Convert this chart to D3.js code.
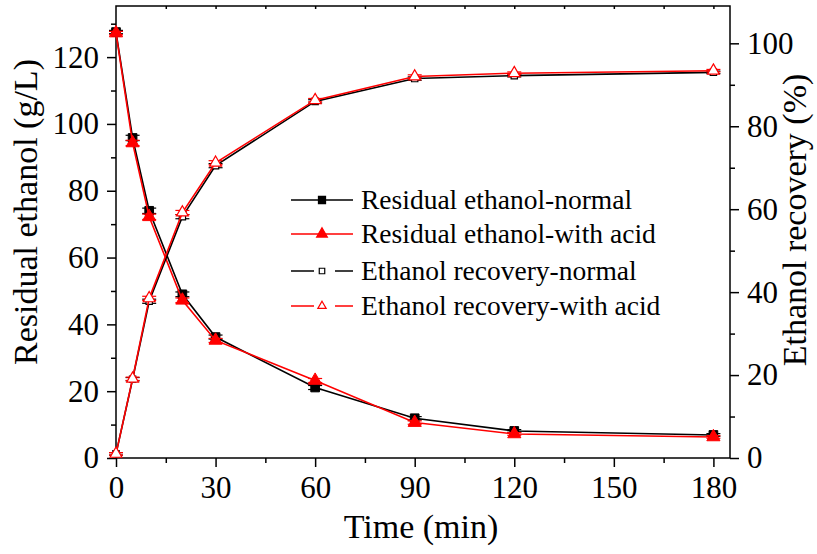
<!DOCTYPE html>
<html><head><meta charset="utf-8">
<script src="https://cdn.jsdelivr.net/npm/d3@7"></script>
<style>body{margin:0;background:#fff}text{font-family:"Liberation Serif","Times New Roman",serif}</style>
</head><body><svg id="c" width="817" height="554"></svg>
<script>
const times = [0, 5, 10, 20, 30, 60, 90, 120, 180];
const residualNormal = [127.5, 95.8, 74.0, 49.0, 36.2, 21.1, 11.9, 8.1, 6.9];
const residualAcid   = [127.2, 94.3, 72.2, 47.2, 35.2, 23.2, 10.6, 7.2, 6.3];
const recoveryNormal = [1.0, 19.0, 37.8, 58.2, 70.5, 86.0, 91.5, 92.2, 93.0];
const recoveryAcid   = [1.0, 19.1, 38.5, 59.2, 71.2, 86.3, 92.0, 92.8, 93.4];
const errResidual = [0.5, 0.8, 0.8, 0.7, 0.6, 0.6, 0.5, 0.4, 0.4];
const errRecovery = [0.3, 0.4, 0.5, 0.5, 0.5, 0.4, 0.4, 0.3, 0.3];
const xTicks = [0, 30, 60, 90, 120, 150, 180];
const yLeftTicks = [0, 20, 40, 60, 80, 100, 120];
const yRightTicks = [0, 20, 40, 60, 80, 100];
const legendLabels = ["Residual ethanol-normal", "Residual ethanol-with acid", "Ethanol recovery-normal", "Ethanol recovery-with acid"];

const L = 116, R = 730, T = 6, B = 458;
const svg = d3.select("#c");
const x = d3.scaleLinear().domain([0, 185]).range([L, R]);
const yL = d3.scaleLinear().domain([0, 135.3]).range([B, T]);
const yR = d3.scaleLinear().domain([0, 109]).range([B, T]);

const fs = 31;
// axes
const gx = svg.append("g").attr("transform", `translate(0,${B})`)
  .call(d3.axisBottom(x).tickValues(xTicks).tickSize(9).tickPadding(9).tickFormat(d3.format("d")));
const gxm = svg.append("g").attr("transform", `translate(0,${B})`)
  .call(d3.axisBottom(x).tickValues([15, 45, 75, 105, 135, 165]).tickSize(5).tickFormat(""));
const gxt = svg.append("g").attr("transform", `translate(0,${T})`)
  .call(d3.axisBottom(x).tickValues([15, 30, 45, 60, 75, 90, 105, 120, 135, 150, 165, 180]).tickSize(3).tickFormat(""));
const gyl = svg.append("g").attr("transform", `translate(${L},0)`)
  .call(d3.axisLeft(yL).tickValues(yLeftTicks).tickSize(9).tickPadding(8));
const gylm = svg.append("g").attr("transform", `translate(${L},0)`)
  .call(d3.axisLeft(yL).tickValues([10, 30, 50, 70, 90, 110, 130]).tickSize(5).tickFormat(""));
const gyr = svg.append("g").attr("transform", `translate(${R},0)`)
  .call(d3.axisRight(yR).tickValues(yRightTicks).tickSize(9).tickPadding(8));
const gyrm = svg.append("g").attr("transform", `translate(${R},0)`)
  .call(d3.axisRight(yR).tickValues([10, 30, 50, 70, 90]).tickSize(5).tickFormat(""));
[gx, gxm, gxt, gyl, gylm, gyr, gyrm].forEach(g => {
  g.select(".domain").remove();
  g.selectAll(".tick line").attr("stroke", "#000").attr("stroke-width", 1.5);
  g.selectAll("text").attr("font-size", fs).attr("fill", "#000");
});
svg.append("rect").attr("x", L).attr("y", T).attr("width", R - L).attr("height", B - T)
  .attr("fill", "none").attr("stroke", "#000").attr("stroke-width", 1.5);

// titles
svg.append("text").attr("x", 421).attr("y", 538).attr("text-anchor", "middle")
  .attr("font-size", 34).text("Time (min)");
svg.append("text").attr("transform", `translate(37,212) rotate(-90)`).attr("text-anchor", "middle")
  .attr("font-size", 34).text("Residual ethanol (g/L)");
svg.append("text").attr("transform", `translate(806,220) rotate(-90)`).attr("text-anchor", "middle")
  .attr("font-size", 34).text("Ethanol recovery (%)");

const series = [
  {vals: residualNormal, err: errResidual, y: yL, color: "#000", sym: d3.symbolSquare, size: 75, fill: true},
  {vals: residualAcid, err: errResidual, y: yL, color: "#ff0000", sym: d3.symbolTriangle, size: 75, fill: true},
  {vals: recoveryNormal, err: errRecovery, y: yR, color: "#000", sym: d3.symbolSquare, size: 40, fill: false},
  {vals: recoveryAcid, err: errRecovery, y: yR, color: "#ff0000", sym: d3.symbolTriangle, size: 60, fill: false}
];
const line = (ys) => d3.line().x((d, i) => x(times[i])).y(d => ys(d));
series.forEach(s => {
  const g = svg.append("g");
  g.append("path").datum(s.vals).attr("d", line(s.y)).attr("fill", "none")
    .attr("stroke", s.color).attr("stroke-width", 1.6);
  s.vals.forEach((v, i) => {
    const cx = x(times[i]);
    const y1 = s.y(v + s.err[i]), y2 = s.y(v - s.err[i]);
    g.append("line").attr("x1", cx).attr("x2", cx).attr("y1", y1).attr("y2", y2).attr("stroke", s.color).attr("stroke-width", 1.2);
    [y1, y2].forEach(yy => g.append("line").attr("x1", cx - 7).attr("x2", cx + 7).attr("y1", yy).attr("y2", yy)
      .attr("stroke", s.color).attr("stroke-width", 1.2));
    g.append("path").attr("d", d3.symbol().type(s.sym).size(s.size)())
      .attr("transform", `translate(${cx},${s.y(v)})`)
      .attr("fill", s.fill ? s.color : "#fff").attr("stroke", s.color).attr("stroke-width", s.fill ? 1 : 1.2);
  });
});

// legend
const lx1 = 291, lx2 = 353, lrows = [200, 234, 271, 306];
series.forEach((s, i) => {
  const yy = lrows[i];
  const g = svg.append("g");
  if (s.fill) {
    g.append("line").attr("x1", lx1).attr("x2", lx2).attr("y1", yy).attr("y2", yy).attr("stroke", s.color).attr("stroke-width", 1.5);
  } else {
    g.append("line").attr("x1", lx1).attr("x2", lx1 + 23).attr("y1", yy).attr("y2", yy).attr("stroke", s.color).attr("stroke-width", 1.5);
    g.append("line").attr("x1", lx2 - 18).attr("x2", lx2).attr("y1", yy).attr("y2", yy).attr("stroke", s.color).attr("stroke-width", 1.5);
  }
  g.append("path").attr("d", d3.symbol().type(s.sym).size(s.fill ? 50 : 30)())
    .attr("transform", `translate(322,${yy})`)
    .attr("fill", s.fill ? s.color : "#fff").attr("stroke", s.color).attr("stroke-width", 1.2);
  g.append("text").attr("x", 361).attr("y", yy + 9).attr("font-size", 27.5).attr("fill", "#000").text(legendLabels[i]);
});
</script></body></html>
